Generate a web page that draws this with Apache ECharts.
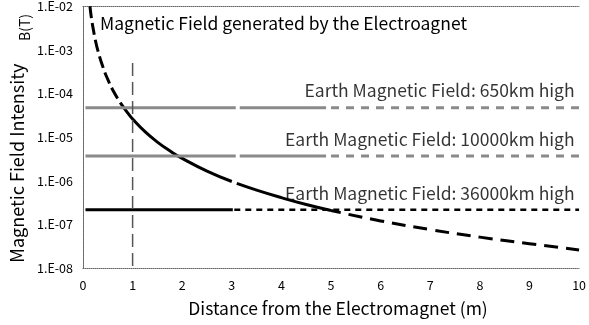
<!DOCTYPE html>
<html><head><meta charset="utf-8">
<script src="https://cdn.jsdelivr.net/npm/echarts@6/dist/echarts.min.js"></script>
<style>html,body{margin:0;padding:0;background:#fff}#c{width:589px;height:325px}</style>
</head><body><div id="c"></div>
<script>
// ---- data ----
const curveX = [0.14, 0.17, 0.2, 0.25, 0.3, 0.4, 0.5, 0.6, 0.75, 0.9, 1.0, 1.25, 1.5, 1.75, 2.0, 2.5, 3.0, 3.1, 3.5, 4.0, 4.5, 5.0, 6.0, 7.0, 8.0, 9.0, 10.0];
const curveB = [1.0e-2, 5.3e-3, 3.3e-3, 1.66e-3, 9.6e-4, 4.1e-4, 2.1e-4, 1.2e-4, 6.2e-5, 3.6e-5, 2.6e-5, 1.33e-5, 7.7e-6, 4.85e-6, 3.25e-6, 1.66e-6, 9.6e-7, 8.7e-7, 6.1e-7, 4.1e-7, 2.85e-7, 2.08e-7, 1.2e-7, 7.6e-8, 5.1e-8, 3.6e-8, 2.6e-8];
const levelNames = ['Earth Magnetic Field: 650km high', 'Earth Magnetic Field: 10000km high', 'Earth Magnetic Field: 36000km high'];
const levelValues = [4.7e-5, 3.7e-6, 2.15e-7];
const levelStart = 0.05, levelEnd = 10;
const markerX = 1, markerTop = 5e-4;
const xMin = 0, xMax = 10, yMin = 1e-8, yMax = 1e-2;
const titleText = 'Magnetic Field generated by the Electroagnet';
const xName = 'Distance from the Electromagnet (m)';
const yNameMain = 'Magnetic Field Intensity', yNameUnit = 'B(T)';

// ---- chart ----
const FONT = '"Noto Sans CJK JP", "Liberation Sans", sans-serif';
const pts = curveX.map((x, i) => [x, curveB[i]]);
const seg = (a, b) => pts.filter(p => p[0] >= a - 1e-9 && p[0] <= b + 1e-9);

const series = [];
function line(data, color, width, type, smooth, offset) {
  series.push({ type: 'line', data, symbol: 'none', smooth: !!smooth, silent: true,
    lineStyle: { color, width, type, dashOffset: offset || 0, cap: 'butt' } });
}
// curve pieces
line(seg(0.14, 0.75), '#000', 3, [12, 5], true);
line(seg(0.75, 3.0), '#000', 3, 'solid', true);
line(seg(3.1, 5.0), '#000', 3, 'solid', true);
line(seg(5.0, 10), '#000', 3, [14, 8], true, 4);
// earth field levels
levelValues.forEach((v, i) => {
  if (i < 2) {
    line([[levelStart, v], [3.08, v]], '#8a8a8a', 3, 'solid');
    line([[3.16, v], [4.9, v]], '#8a8a8a', 3, 'solid');
    line([[5.0, v], [levelEnd, v]], '#8a8a8a', 3, [8, 7]);
  } else {
    line([[levelStart, v], [3.02, v]], '#000', 3, 'solid');
    line([[3.05, v], [levelEnd, v]], '#000', 2.5, [6, 5]);
  }
});
// vertical marker at 1 m
line([[markerX, markerTop], [markerX, yMin]], '#555', 1.5, [13, 6]);
// level labels
series.push({ type: 'scatter', symbolSize: 1, silent: true, itemStyle: { color: 'rgba(0,0,0,0)' },
  data: levelValues.map((v, i) => ({ value: [levelEnd, v], name: levelNames[i] })),
  label: { show: true, formatter: p => p.name, position: 'left', distance: 4, offset: [0, -17],
    fontSize: 17.5, color: '#000', fontFamily: FONT } });

const expFmt = v => { const e = Math.round(Math.log10(v)); return '1.E' + (e < 0 ? '-' : '+') + String(Math.abs(e)).padStart(2, '0'); };
const border = { show: true, lineStyle: { color: '#666', type: 'dotted', width: 1 } };

const chart = echarts.init(document.getElementById('c'), null, { renderer: 'canvas' });
chart.setOption({
  animation: false,
  backgroundColor: '#fff',
  title: { text: titleText, left: 95, top: 10, textStyle: { fontSize: 17.5, fontWeight: 'normal', color: '#000', fontFamily: FONT } },
  grid: { left: 83, right: 6, top: 5, bottom: 57 },
  graphic: [{ type: 'text', left: 18, top: 14, rotation: Math.PI / 2,
    style: { text: yNameUnit, fontSize: 14, fill: '#000', fontFamily: FONT } }],
  xAxis: [
    { type: 'value', min: xMin, max: xMax, interval: 1, axisLine: border, axisTick: { show: false }, splitLine: { show: false },
      axisLabel: { fontSize: 12.5, color: '#000', margin: 11, fontFamily: FONT },
      name: xName, nameLocation: 'middle', nameGap: 32,
      nameTextStyle: { fontSize: 17.5, color: '#000', fontFamily: FONT, padding: [0, 0, 0, 14] } },
    { type: 'value', position: 'top', min: xMin, max: xMax, axisLine: border, axisTick: { show: false }, axisLabel: { show: false }, splitLine: { show: false } }
  ],
  yAxis: [
    { type: 'log', logBase: 10, min: yMin, max: yMax, axisLine: border, axisTick: { show: false }, splitLine: { show: false },
      axisLabel: { formatter: expFmt, fontSize: 12.5, color: '#000', margin: 10, fontFamily: FONT },
      name: yNameMain, nameLocation: 'middle', nameGap: 56, nameRotate: 90,
      nameTextStyle: { fontSize: 18, color: '#000', fontFamily: FONT, padding: [0, 52, 0, 0] } },
    { type: 'log', logBase: 10, position: 'right', min: yMin, max: yMax, axisLine: border, axisTick: { show: false }, axisLabel: { show: false }, splitLine: { show: false } }
  ],
  series
});
</script></body></html>
